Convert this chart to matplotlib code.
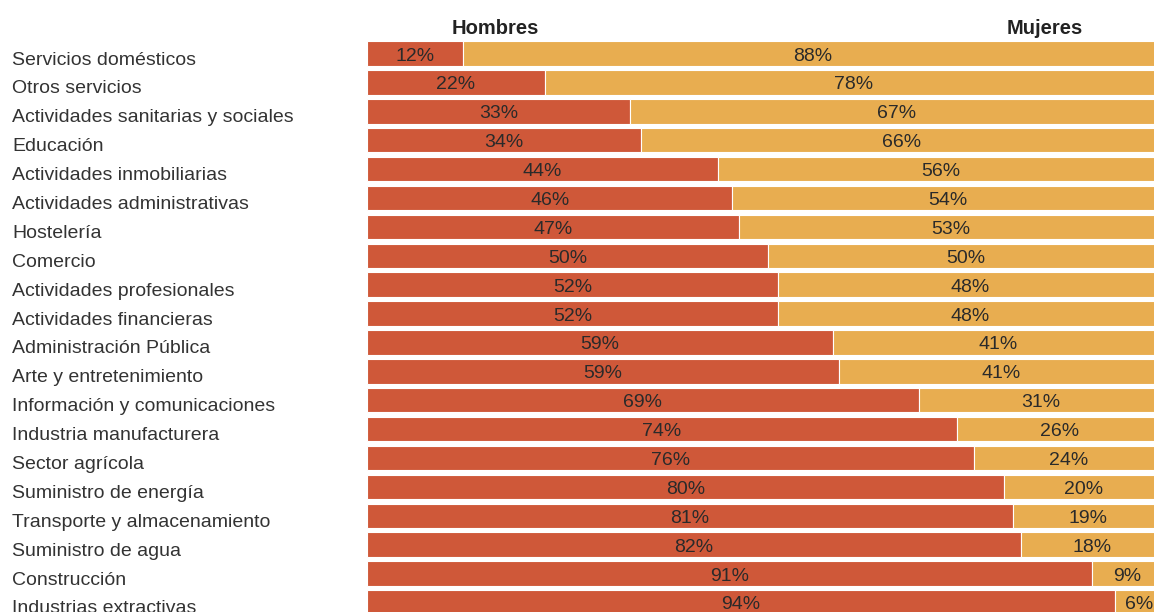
import matplotlib
matplotlib.use('Agg')
import matplotlib.pyplot as plt
from matplotlib.transforms import blended_transform_factory, offset_copy

categories = [
    "Servicios domésticos", "Otros servicios", "Actividades sanitarias y sociales",
    "Educación", "Actividades inmobiliarias", "Actividades administrativas",
    "Hostelería", "Comercio", "Actividades profesionales", "Actividades financieras",
    "Administración Pública", "Arte y entretenimiento", "Información y comunicaciones",
    "Industria manufacturera", "Sector agrícola", "Suministro de energía",
    "Transporte y almacenamiento", "Suministro de agua", "Construcción",
    "Industrias extractivas",
]
hombres = [12.0, 22.3, 33.1, 34.4, 44.1, 45.9, 46.7, 50.4, 51.6, 51.6,
           58.6, 59.3, 69.3, 74.1, 76.2, 80.0, 81.1, 82.2, 91.1, 94.0]
mujeres = [88.0, 77.7, 66.9, 65.6, 55.9, 54.1, 53.3, 49.6, 48.4, 48.4,
           41.4, 40.7, 30.7, 25.9, 23.8, 20.0, 18.9, 17.8, 8.9, 6.0]
hombres_labels = [12, 22, 33, 34, 44, 46, 47, 50, 52, 52, 59, 59, 69, 74, 76, 80, 81, 82, 91, 94]
mujeres_labels = [88, 78, 67, 66, 56, 54, 53, 50, 48, 48, 41, 41, 31, 26, 24, 20, 19, 18, 9, 6]

RED = '#CF5839'
ORANGE = '#E8AD50'
TXT = '#2a2a2a'
LBL = '#333333'
FONT = ['Liberation Sans', 'DejaVu Sans']
plt.rcParams['font.family'] = FONT

W, H = 1154, 612
fig = plt.figure(figsize=(W / 100, H / 100), dpi=100)
left_px, right_px = 367, 1163
top_px, bottom_px = 39.1, 616.9
ax = fig.add_axes([left_px / W, 1 - bottom_px / H,
                   (right_px - left_px) / W, (bottom_px - top_px) / H])

n = len(categories)
ys = list(range(n))
ax.barh(ys, hombres, height=0.845, color=RED, edgecolor='white', linewidth=0.8)
ax.barh(ys, mujeres, left=hombres, height=0.845, color=ORANGE, edgecolor='white', linewidth=0.8)
ax.set_xlim(0, 100)
ax.set_ylim(n - 0.5, -0.5)
ax.axis('off')

pct_trans = offset_copy(ax.transData, fig=fig, y=-7.0, units='dots')
for i in range(n):
    ax.text(hombres[i] / 2, i, f"{hombres_labels[i]}%", ha='center', va='baseline',
            fontsize=14, color=TXT, transform=pct_trans)
    ax.text(hombres[i] + mujeres[i] / 2, i, f"{mujeres_labels[i]}%", ha='center',
            va='baseline', fontsize=14, color=TXT, transform=pct_trans)

lbl_trans = offset_copy(blended_transform_factory(fig.transFigure, ax.transData),
                        fig=fig, y=-11.0, units='dots')
for i, c in enumerate(categories):
    ax.text(12 / W, i, c, ha='left', va='baseline', fontsize=14, color=LBL,
            transform=lbl_trans, clip_on=False)

fig.text(495 / W, 1 - 34 / H, "Hombres", ha='center', va='baseline',
         fontsize=14.5, fontweight='bold', color='#222222')
fig.text(1045 / W, 1 - 34 / H, "Mujeres", ha='center', va='baseline',
         fontsize=14.5, fontweight='bold', color='#222222')

fig.savefig('out.png', dpi=100)
